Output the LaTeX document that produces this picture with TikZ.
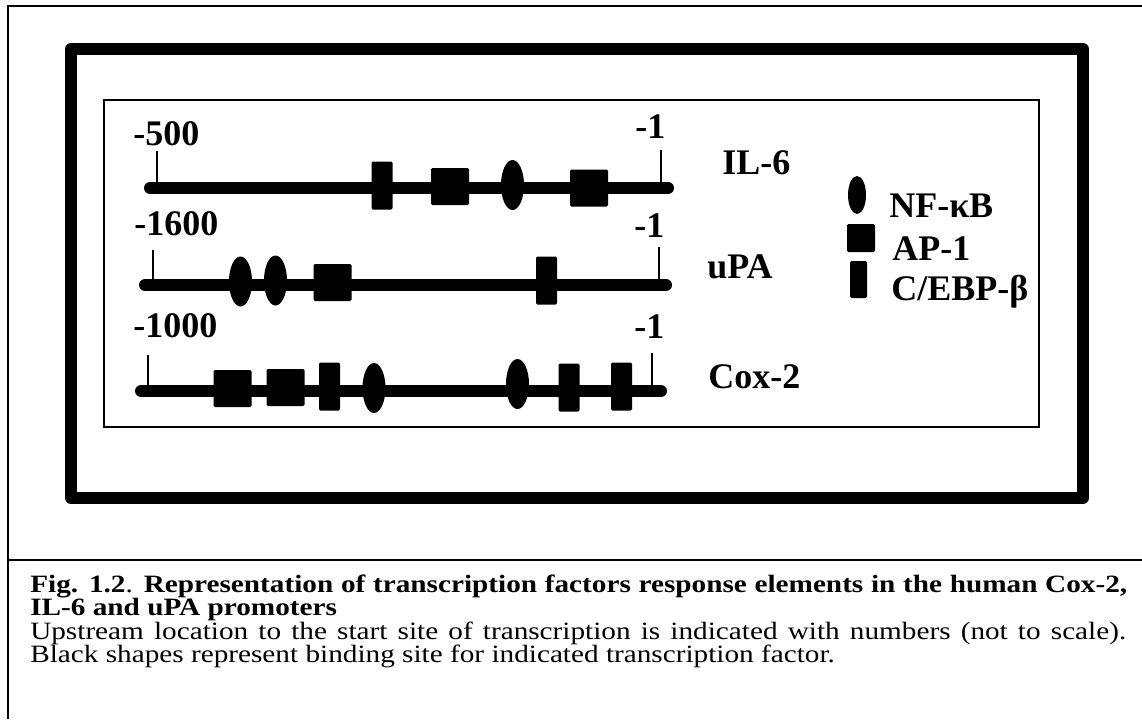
\documentclass[tikz,border=0pt]{standalone}
\usepackage{fontspec}
\usepackage{graphicx}
\setmainfont{Liberation Serif}
\usetikzlibrary{shapes.geometric}
\newcommand{\wide}[1]{\scalebox{1.29}[1.1]{#1}}
\begin{document}
\begin{tikzpicture}[x=0.75pt,y=-0.75pt,
  frame/.style={line width=1.5pt},
  thickbox/.style={line width=9pt,line join=round},
  thinbox/.style={line width=1.2pt},
  dna/.style={line width=9pt,line cap=round},
  tickline/.style={line width=1.1pt},
  ap/.style={rectangle,fill=black,inner sep=0pt,rounded corners=1pt,minimum width=28.5pt,minimum height=27.75pt},
  ceb/.style={rectangle,fill=black,inner sep=0pt,rounded corners=1pt,minimum width=15.75pt,minimum height=36pt},
  nfk/.style={ellipse,fill=black,inner sep=0pt,minimum width=17.25pt,minimum height=37.5pt},
  lab/.style={inner sep=0pt,anchor=base west,font=\fontsize{27}{30}\selectfont\bfseries},
  captxt/.style={inner sep=0pt,anchor=base west,font=\fontsize{17}{20}\selectfont}
]
\useasboundingbox (0,0) rectangle (1142,719);
% outer frame
\coordinate (fTL) at (8,6);
\coordinate (fTR) at (1142,6);
\coordinate (fBL) at (8,719);
\coordinate (sL) at (8,559.5);
\coordinate (sR) at (1142,559.5);
\draw[frame] (fTR) -- (fTL) -- (fBL);
\draw[frame] (sL) -- (sR);
% boxes
\draw[thickbox] (71,49) rectangle (1083,498);
\draw[thinbox] (104,100) rectangle (1039,427);

% IL-6
\coordinate (aS) at (150,188);
\coordinate (aE) at (668,188);
\coordinate (aTs) at (157,151);
\coordinate (aTe) at (661,150);
\draw[dna] (aS) -- (aE);
\draw[tickline] (aTs) -- (aTs |- aS);
\draw[tickline] (aTe) -- (aTe |- aE);
\node[lab] (a500) at (133,145) {-500};
\node[lab] (a1) at (635,138) {-1};
\node[ceb] (a_c1) at (382,185.5) {};
\node[ap]  (a_a1) at (450,186.5) {};
\node[nfk] (a_n1) at (512.5,185) {};
\node[ap]  (a_a2) at (589,188) {};
\node[lab] (il6) at (722,174) {IL-6};

% uPA
\coordinate (bS) at (145,285);
\coordinate (bE) at (666,285);
\coordinate (bTs) at (153,250);
\coordinate (bTe) at (659,247);
\draw[dna] (bS) -- (bE);
\draw[tickline] (bTs) -- (bTs |- bS);
\draw[tickline] (bTe) -- (bTe |- bE);
\node[lab] (b1600) at (134,235) {-1600};
\node[lab] (b1) at (634,237) {-1};
\node[nfk] (b_n1) at (240.5,281.5) {};
\node[nfk] (b_n2) at (275.5,280.5) {};
\node[ap]  (b_a1) at (332.5,282.5) {};
\node[ceb] (b_c1) at (546.5,280.5) {};
\node[lab] (upa) at (707,278) {uPA};

% Cox-2
\coordinate (cS) at (141,391);
\coordinate (cE) at (661,391);
\coordinate (cTs) at (148,355);
\coordinate (cTe) at (652,353);
\draw[dna] (cS) -- (cE);
\draw[tickline] (cTs) -- (cTs |- cS);
\draw[tickline] (cTe) -- (cTe |- cE);
\node[lab] (c1000) at (133,337) {-1000};
\node[lab] (c1) at (634,338) {-1};
\node[ap]  (c_a1) at (232.5,388.5) {};
\node[ap]  (c_a2) at (285.5,387.5) {};
\node[ceb] (c_c1) at (329.5,386.5) {};
\node[nfk] (c_n1) at (374,388) {};
\node[nfk] (c_n2) at (517.5,384) {};
\node[ceb] (c_c2) at (569,387.5) {};
\node[ceb] (c_c3) at (621.5,386.5) {};
\node[lab] (cox) at (708,388) {Cox-2};

% legend
\node[nfk,minimum width=13.5pt,minimum height=28.5pt] (lgn) at (857,195) {};
\node[ap,minimum width=21pt,minimum height=21pt] (lga) at (861,238) {};
\node[ceb,minimum width=12.75pt,minimum height=27.75pt] (lgc) at (858.5,279.5) {};
\node[lab] (tn) at (889,217) {NF-κB};
\node[lab] (ta) at (892,260) {AP-1};
\node[lab] (tc) at (891,300) {C/EBP-β};

% caption
\node[captxt] (cp1) at (30,592) {\wide{\makebox[637.8pt][s]{\textbf{Fig. 1.2}. \textbf{Representation of transcription factors response elements in the human Cox-2,}}}};
\node[captxt] (cp2) at (30,615.5) {\wide{\textbf{IL-6 and uPA promoters}}};
\node[captxt] (cp3) at (30,639) {\wide{\makebox[637.2pt][s]{Upstream location to the start site of transcription is indicated with numbers (not to scale).}}};
\node[captxt] (cp4) at (30,662.5) {\wide{Black shapes represent binding site for indicated transcription factor.}};
\end{tikzpicture}
\end{document}
